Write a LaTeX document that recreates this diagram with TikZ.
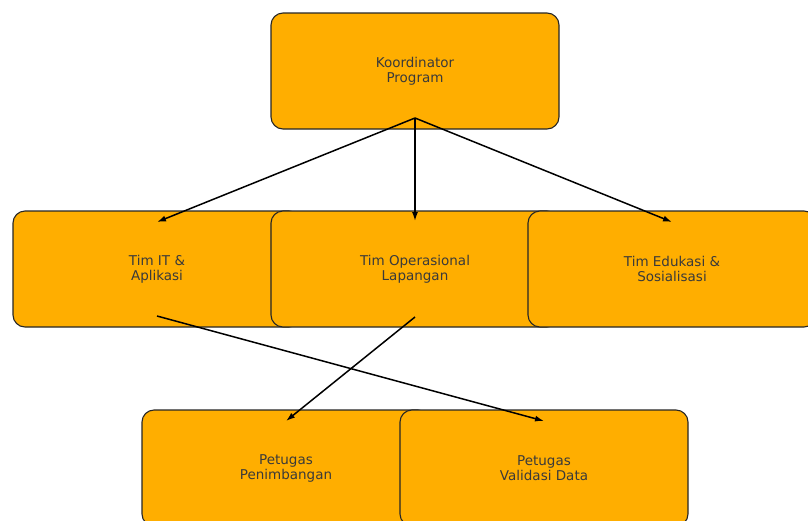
\documentclass[tikz,border=0pt]{standalone}
\usepackage{fontspec}
\setmainfont{DejaVu Sans}
\usetikzlibrary{arrows.meta}
\definecolor{boxfill}{HTML}{FFAE00}
\definecolor{boxtext}{HTML}{3A3A3A}

\tikzset{
  unit/.style={draw=black!85, line width=1.1pt, fill=boxfill, rounded corners=12pt,
               minimum width=288pt, minimum height=116pt, inner sep=0pt,
               text=boxtext, align=center, font=\fontsize{13.5}{15}\selectfont},
  link/.style={-{Latex[length=9pt,width=6pt]}, line width=1.5pt, black}
}

\begin{document}
\begin{tikzpicture}[x=1pt, y=-1pt]
    \useasboundingbox (0,0) rectangle (808,520);
    \begin{scope}
    \clip (0,0) rectangle (808,520);
    % top
    \node[unit] (koord) at (415,71) {Koordinator\\Program};
    % tim
    \node[unit] (timit)  at (157,269) {Tim IT \&\\Aplikasi};
    \node[unit] (timops) at (415,269) {Tim Operasional\\Lapangan};
    \node[unit] (timedu) at (672,269) {Tim Edukasi \&\\Sosialisasi};
    % petugas
    \node[unit] (ptimbang) at (286,468) {Petugas\\Penimbangan};
    \node[unit] (pvalid)   at (544,468) {Petugas\\Validasi Data};
    \end{scope}

    \draw[link] ([yshift=-47pt]koord.center) -- ([yshift=47pt]timit.center);
    \draw[link] ([yshift=-47pt]koord.center) -- ([yshift=48pt]timops.center);
    \draw[link] ([yshift=-47pt]koord.center) -- ([yshift=47pt]timedu.center);
    \draw[link] ([yshift=-47pt]timit.center) -- ([yshift=47pt]pvalid.center);
    \draw[link] ([yshift=-48pt]timops.center) -- ([yshift=47pt]ptimbang.center);
  \end{tikzpicture}
\end{document}
